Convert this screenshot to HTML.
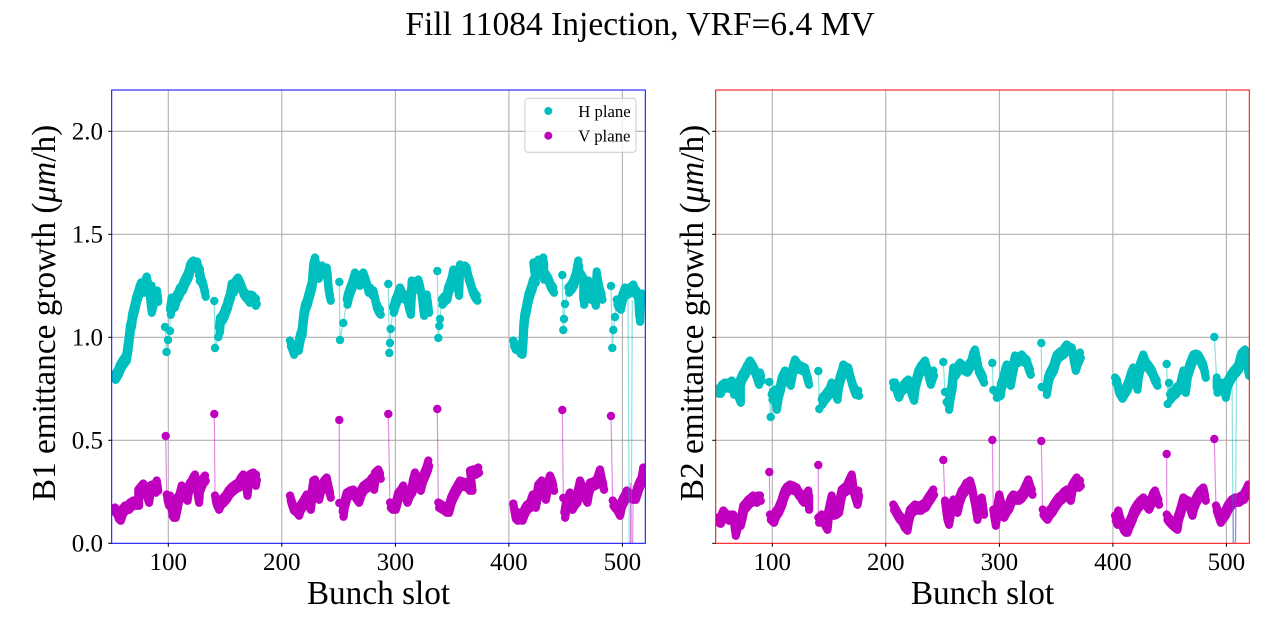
<!DOCTYPE html>
<html><head><meta charset="utf-8"><style>
html,body{margin:0;padding:0;background:#fff;}
svg{display:block;}
text{font-family:"Liberation Serif","Times New Roman",serif;fill:#000;}
.g{stroke:#b0b0b0;stroke-width:1.1;fill:none;}
.tk{stroke:#000;stroke-width:1;}
.hb{fill:none;stroke:#00bfbf;stroke-width:8.2;stroke-linejoin:round;stroke-linecap:round;}
.vb{fill:none;stroke:#bf00bf;stroke-width:8.2;stroke-linejoin:round;stroke-linecap:round;}
.ht{fill:none;stroke:#00bfbf;stroke-opacity:0.45;stroke-width:1.2;}
.vt{fill:none;stroke:#bf00bf;stroke-opacity:0.45;stroke-width:1.2;}
.hc{fill:#00bfbf;}
.vc{fill:#bf00bf;}
.tl{font-size:25px;}
</style></head><body>
<svg width="1280" height="640" viewBox="0 0 1280 640" xmlns="http://www.w3.org/2000/svg" xmlns:xlink="http://www.w3.org/1999/xlink">
<defs>
<clipPath id="cl"><rect x="111.7" y="90" width="533.6" height="453.3"/></clipPath>
<clipPath id="cr"><rect x="715.7" y="90" width="533.6" height="453.3"/></clipPath>

<g id="bh1">
<polyline class="hb" points="115,377 118,372 120,367 123,362 126,358 127,352 128,345 129,337 130,328 131.5,322 132,317 133.5,311 135,305 136,300 138,294 139.5,289 141,285 143,290 145,283 146.7,279 148,285 150,290 151.5,288 150,300 151,310 153,302 155,296 157,293 157.5,299"/>
<polyline class="hb" points="170,312 171.7,300 174,305 176,298 178,295 180,290 182,288 184,283 185,281 187,277 189,272 190,267 192,264 193.3,263 195,266 197,264 198,268 200,272 199,278 201,280 203,285 204,290 205,294"/>
<polyline class="hb" points="219,330 220,320 222,318 224,314 225,311 227,306 228,302 230,296 231.7,286 233,290 235,284 238,280 240,284 242,289 243,292 245,295 247,297 249,300 251,297 253,298 255,303 256,301"/>
<polyline class="hb" points="290,343 292,348 293.3,352 295,347 298,348 299,342 300,337 301.7,332 302.5,324 303.3,317 304,312 305,307 307,302 308.3,297 310,291 311.7,285 312.5,276 313.3,266 315,260 316.7,271 318,276 320,270 322,268 324,272 326.7,270 327.5,280 328.3,290 329,294 330,298"/>
<polyline class="hb" points="346.7,302 348,296 350,290 352,285 355,275 357,280 359,283 361,278 363.3,275 365,280 366.7,285 368,290 370,290 372,293 373.3,293 375,300 376,305 378.3,310 380,312"/>
<polyline class="hb" points="393,310 395,303 397,298 400,290 402,295 404,297 406.7,297 408,305 410,312 411.7,283 413,288 415,285 418.3,282 420,288 422,300 423.3,313 425,300 426.7,297 428.3,310"/>
<polyline class="hb" points="441.7,302 444,299 446.7,297 448,290 450,285 451.7,280 453.3,272 455,278 457,285 458.3,293 459,275 460,267 462,270 465,268 466.7,270 468,277 470,283 472,290 473.3,293 475,296 476.7,298"/>
<polyline class="hb" points="513.3,343 515,347 518.3,348 520,351 521.7,352 522.7,340 523.3,327 524.3,317 526,309 528.3,297 530,292 531.7,287 533,282 535,280 533.3,265 536,270 536.7,273 538.3,262 540,265 543.3,260 543.3,277 545,275 548.3,280 550,285 553.3,290"/>
<polyline class="hb" points="568.3,290 571,287 573.3,283 576,275 578.3,263 578.3,272 581,276 583.3,280 583.3,302 585,290 588.3,283 590,297 592,290 595,303 596.7,274 598,283 600,292 601.7,297"/>
<polyline class="hb" points="616.7,302 618,305 620,307 622,298 625,290 627,292 630,290 633.3,287 635,292 636.7,293 638,298 639.3,319 640,300 642,296 643.3,300 645,298"/>
</g>

<g id="bv1">
<polyline class="vb" points="115,510 116.7,512 118,516 120,518 122,512 123.3,510 125,508 128.3,507 130,505 133.3,503 136,503 138.3,503 138.3,492 140,490 143.3,486 145,490 148.3,500 150,488 152,487 155,490 156.7,483 157.5,488"/>
<polyline class="vb" points="166.7,497 168.3,503 170,498 171.7,500 171.7,513 173,515 175,515 176.7,507 178,500 180,495 181.7,488 184,492 186.7,498 188,490 190,485 191.7,483 193,480 195,477 196,485 198.3,500 199,490 200,487 202,482 205,478"/>
<polyline class="vb" points="215,498 216,502 218.3,507 220,503 223.3,500 226,497 228.3,493 231,490 233.3,488 236,486 238.3,485 241,480 243.3,477 245,480 246.7,493 248.3,478 251,476 253.3,475 255,483 256,477"/>
<polyline class="vb" points="290,498 291.5,503 293.3,508 296,510 298.3,513 300,508 303.3,503 305,500 306.7,497 308,503 310,507 312,492 313.3,483 315,482 316.7,490 318.3,497 320,490 321.7,487 324,483 326.7,480 328.3,488 330,495"/>
<polyline class="vb" points="342.7,514 344,505 346.7,495 350,493 353.3,492 356,497 358.3,500 361,492 363.3,488 366,486 370,483 372,480 373.3,487 375,475 378.3,472 380,476"/>
<polyline class="vb" points="390,505 392,507 395,507 397,500 398.3,495 401,492 403.3,488 405,495 406.7,500 409,494 411.7,490 413,482 415,475 417,480 420,488 422,480 425,473 427,468 428.3,463"/>
<polyline class="vb" points="438.3,505 440,506 443.3,508 446,510 448.3,510 451,500 453.3,495 456,490 460,483 463,484 466.7,485 469,488 471.7,488 470,473 473,472 475,472 478.3,470"/>
<polyline class="vb" points="513.3,506 515,516 517,518 519,515 521.7,518 523.3,514 525,510 527,507 530,505 532.7,497 535,505 537,495 538.3,487 540,485 541.7,483 543.3,490 545,497 547,488 550,478 552,483 553.3,488"/>
<polyline class="vb" points="564.3,515 566,505 568,500 570,495 571.7,507 574,503 576.7,500 578,492 580,483 582,488 584,495 586.7,500 588,492 590,485 593,484 596.7,482 598,478 600,472 601.5,480 603.3,487"/>
<polyline class="vb" points="612.7,503 614,505 616.7,508 619.3,513 621,505 623.3,500 625,497 626.7,493 629,495 632,497 635,497 636.7,492 638.3,487 640,483 641.7,480 643.3,470 645,475"/>
</g>

<g id="bh2">
<polyline class="hb" points="718,391 720,391 722,387 725,385 728,386 731.7,383 733.3,392 735,388 736.7,385 738,395 740,400 740,382 742,377 745,372 747,368 750,363 752,366 755,372 757,378 758.3,382 760,375 761,378"/>
<polyline class="hb" points="771.7,397 773,394 775,392 776,407 778,395 780,388 781.7,380 783,377 785,373 787,378 790,383 792,372 795,362 797,365 798.3,367 801,368 805,370 806.5,376 808.3,382"/>
<polyline class="hb" points="821.7,402 823,399 825,397 828,393 830,390 831.7,385 834,390 836.7,397 838,386 840,378 842,372 843.3,367 846,369 848.3,370 850,377 851.7,383 853,387 855,392 858.3,393"/>
<polyline class="hb" points="893,385 895,385 897,392 898.3,395 900,390 903.3,387 906,384 908.3,382 911,392 913.3,398 915,385 918.3,373 921,368 925,363 927,370 930,382 932,376 933.3,373"/>
<polyline class="hb" points="948.3,407 950,395 951.7,387 953.3,370 955,373 958,368 960,365 963,368 966.7,370 969,366 971.7,362 973,356 975,352 977,362 978.3,370 981,375 983.3,380"/>
<polyline class="hb" points="996,395 1000,393 1001,386 1003.3,380 1005,372 1006.7,367 1008,375 1010,383 1012,372 1015,358 1018,360 1021.7,357 1024,360 1026.7,362 1028,367 1030,372"/>
<polyline class="hb" points="1046,392 1048.3,378 1050,374 1053.3,368 1055,362 1056.7,357 1060,354 1063.3,352 1065,349 1066.7,347 1069,349 1071.7,350 1073,358 1075,368 1077,362 1080,355"/>
<polyline class="hb" points="1115,380 1116.7,382 1118.3,390 1120,393 1121.7,396 1124,392 1126.7,388 1129,382 1131,375 1133.3,370 1135,378 1136.7,387 1138,375 1140,366 1143.3,357 1145,362 1146.7,365 1149,368 1151.7,372 1154,378 1156.7,383"/>
<polyline class="hb" points="1170,397 1172,394 1175,392 1177,389 1180,387 1183.3,373 1185,390 1187,375 1190,365 1192,360 1193.3,357 1196,356 1198.3,357 1201,362 1203.3,367 1205,375"/>
<polyline class="hb" points="1216.7,380 1216.7,390 1219,388 1221,386 1223.3,385 1225,395 1227,384 1230,378 1233.3,373 1236,370 1238.3,367 1240,360 1241.7,355 1245,352 1246.7,365 1248.3,373 1250,368"/>
</g>

<g id="bv2">
<polyline class="vb" points="718,520 720,521 722,516 723.3,513 726,516 728.3,518 731,517 733.3,517 735,533 737,525 740,523 742,515 743.3,508 746,505 748.3,502 751,500 753.3,498 756,500 758,498 760,498"/>
<polyline class="vb" points="770,517 773.3,520 775,515 778.3,510 780,506 781.7,502 783,497 785,492 787,489 790,487 793,488 796.7,490 798,493 800,495 801.5,498 803.3,500 806,497 808.3,493 808.3,507"/>
<polyline class="vb" points="818.3,520 820,519 821.7,517 824,522 826.7,527 828,515 831.7,498 833.3,513 836,512 838.3,510 840,500 841.7,492 844,490 846.7,488 849,483 851.7,477 853,490 856.7,502 858.3,493"/>
<polyline class="vb" points="893.3,507 895,510 896.7,513 899,517 901.7,520 904,525 906.7,528 908,520 910,512 912,510 915,507 918,508 920,508 923,506 925,505 928,500 930,497 933.3,492"/>
<polyline class="vb" points="945,503 946.7,517 948.3,522 950,512 953.3,502 955,506 956.7,510 959,500 961.7,493 964,490 966.7,485 968,487 970,483 972,490 973.3,497 975,505 976.7,517 979,505 981.7,500 983.3,512"/>
<polyline class="vb" points="993.3,512 995,523 997,510 999.3,497 1001,505 1003.3,515 1006,510 1008.3,507 1011,500 1013.3,497 1016,498 1018.3,498 1021,496 1023.3,493 1026,487 1028.3,482 1030,488 1031.7,492"/>
<polyline class="vb" points="1042.7,512 1044,514 1046.7,517 1049,513 1051.7,510 1054,506 1056.7,502 1059,499 1061.7,497 1064,494 1066.7,492 1068,495 1070,498 1071.7,488 1074,484 1076.7,480 1078,485 1080,483"/>
<polyline class="vb" points="1115,518 1116.7,522 1118.3,513 1120,520 1123.3,528 1125,530 1126.7,530 1129,524 1131.7,518 1133,514 1135,510 1137.5,506 1140,503 1143.3,500 1146,504 1148.3,507 1150,503 1151.7,500 1153,496 1155,493 1156.5,498 1158.3,502"/>
<polyline class="vb" points="1166.7,517 1168,519 1171.7,523 1174,525 1176.7,527 1178,518 1180,512 1182,505 1183.3,500 1186,502 1188.3,503 1190,508 1191.7,513 1193,507 1195,502 1197.5,497 1200,493 1203.3,490 1205,498"/>
<polyline class="vb" points="1216,508 1218,514 1220,520 1222,517 1225,513 1228,507 1231.7,502 1235,500 1238.3,500 1241,498 1243.3,497 1246,492 1248.3,487 1250,490"/>
</g>
</defs>

<text x="640" y="35" font-size="33.5" text-anchor="middle">Fill 11084 Injection, VRF=6.4 MV</text>

<!-- LEFT AXES grid -->
<g class="g">
<line x1="168.3" y1="90" x2="168.3" y2="543.3"/><line x1="281.8" y1="90" x2="281.8" y2="543.3"/>
<line x1="395.4" y1="90" x2="395.4" y2="543.3"/><line x1="508.9" y1="90" x2="508.9" y2="543.3"/>
<line x1="622.4" y1="90" x2="622.4" y2="543.3"/>
<line x1="111.7" y1="131.3" x2="645.3" y2="131.3"/><line x1="111.7" y1="234.3" x2="645.3" y2="234.3"/>
<line x1="111.7" y1="337.3" x2="645.3" y2="337.3"/><line x1="111.7" y1="440.3" x2="645.3" y2="440.3"/>
</g>
<!-- RIGHT AXES grid -->
<g class="g">
<line x1="772.3" y1="90" x2="772.3" y2="543.3"/><line x1="885.8" y1="90" x2="885.8" y2="543.3"/>
<line x1="999.4" y1="90" x2="999.4" y2="543.3"/><line x1="1112.9" y1="90" x2="1112.9" y2="543.3"/>
<line x1="1226.4" y1="90" x2="1226.4" y2="543.3"/>
<line x1="715.7" y1="131.3" x2="1249.3" y2="131.3"/><line x1="715.7" y1="234.3" x2="1249.3" y2="234.3"/>
<line x1="715.7" y1="337.3" x2="1249.3" y2="337.3"/><line x1="715.7" y1="440.3" x2="1249.3" y2="440.3"/>
</g>

<!-- LEFT DATA -->
<g clip-path="url(#cl)">
<use xlink:href="#bh1" href="#bh1" transform="translate(0,-2.5)"/>
<use xlink:href="#bh1" href="#bh1" transform="translate(0.8,2.8)"/>
<use xlink:href="#bv1" href="#bv1" transform="translate(0,-2.5)"/>
<use xlink:href="#bv1" href="#bv1" transform="translate(0.8,2.8)"/>
<!-- B1 H thin / spikes -->
<polyline class="ht" points="628,290 629.5,600 631,600 632.3,300"/>
<polyline class="ht" points="165,327 166.5,352 168,340 170,331 170,312"/>
<circle class="hc" cx="165" cy="327" r="4.2"/><circle class="hc" cx="166.5" cy="352" r="4.2"/><circle class="hc" cx="168" cy="340" r="4.2"/><circle class="hc" cx="170" cy="331" r="4.2"/>
<polyline class="ht" points="214.3,301 215,348 218.3,337 219,330"/>
<circle class="hc" cx="214.3" cy="301" r="4.2"/><circle class="hc" cx="215" cy="348" r="4.2"/><circle class="hc" cx="218.3" cy="337" r="4.2"/>
<polyline class="ht" points="339.3,282 340,340 343.3,323 346.7,302"/>
<circle class="hc" cx="339.3" cy="282" r="4.2"/><circle class="hc" cx="340" cy="340" r="4.2"/><circle class="hc" cx="343.3" cy="323" r="4.2"/>
<polyline class="ht" points="388.3,284 389.3,353 390,343 390.7,329 393,310"/>
<circle class="hc" cx="388.3" cy="284" r="4.2"/><circle class="hc" cx="389.3" cy="353" r="4.2"/><circle class="hc" cx="390" cy="343" r="4.2"/><circle class="hc" cx="390.7" cy="329" r="4.2"/>
<polyline class="ht" points="437.3,271 438.3,338 439.3,326 440,319 441.7,302"/>
<circle class="hc" cx="437.3" cy="271" r="4.2"/><circle class="hc" cx="438.3" cy="338" r="4.2"/><circle class="hc" cx="439.3" cy="326" r="4.2"/><circle class="hc" cx="440" cy="319" r="4.2"/>
<polyline class="ht" points="562.3,275 563.3,330 564,319 565,304 568.3,290"/>
<circle class="hc" cx="562.3" cy="275" r="4.2"/><circle class="hc" cx="563.3" cy="330" r="4.2"/><circle class="hc" cx="564" cy="319" r="4.2"/><circle class="hc" cx="565" cy="304" r="4.2"/>
<polyline class="ht" points="611,286 612.3,348 613.3,330 615,317 616.7,302"/>
<circle class="hc" cx="611" cy="286" r="4.2"/><circle class="hc" cx="612.3" cy="348" r="4.2"/><circle class="hc" cx="613.3" cy="330" r="4.2"/><circle class="hc" cx="615" cy="317" r="4.2"/>
<!-- B1 V thin / spikes -->
<polyline class="vt" points="630.5,483 630.7,600 632,600 633.3,485"/>
<polyline class="vt" points="165.7,436 166.7,497"/><circle class="vc" cx="165.7" cy="436" r="4.2"/>
<polyline class="vt" points="214.3,414 215,498"/><circle class="vc" cx="214.3" cy="414" r="4.2"/>
<polyline class="vt" points="339.3,420 339.3,503 342.7,514"/><circle class="vc" cx="339.3" cy="420" r="4.2"/><circle class="vc" cx="339.3" cy="503" r="4.2"/>
<polyline class="vt" points="388.3,414 390,505"/><circle class="vc" cx="388.3" cy="414" r="4.2"/>
<polyline class="vt" points="437.3,409 438.3,505"/><circle class="vc" cx="437.3" cy="409" r="4.2"/>
<polyline class="vt" points="562.3,410 563.3,498 564.3,515"/><circle class="vc" cx="562.3" cy="410" r="4.2"/><circle class="vc" cx="563.3" cy="498" r="4.2"/>
<polyline class="vt" points="611,416 612.7,503"/><circle class="vc" cx="611" cy="416" r="4.2"/>
</g>

<!-- RIGHT DATA -->
<g clip-path="url(#cr)">
<use xlink:href="#bh2" href="#bh2" transform="translate(0,-2.5)"/>
<use xlink:href="#bh2" href="#bh2" transform="translate(0.8,2.8)"/>
<use xlink:href="#bv2" href="#bv2" transform="translate(0,-2.5)"/>
<use xlink:href="#bv2" href="#bv2" transform="translate(0.8,2.8)"/>
<!-- B2 H -->
<polyline class="ht" points="1232,378 1233.5,600 1235,600 1236.5,372"/>
<polyline class="ht" points="769.3,382 770.7,417 771.7,397"/>
<circle class="hc" cx="769.3" cy="382" r="4.2"/><circle class="hc" cx="770.7" cy="417" r="4.2"/>
<polyline class="ht" points="818.3,371 819.3,409 821.7,402"/>
<circle class="hc" cx="818.3" cy="371" r="4.2"/><circle class="hc" cx="819.3" cy="409" r="4.2"/>
<polyline class="ht" points="943.3,362 945,392 946.7,402 948.3,407 950,395"/>
<circle class="hc" cx="943.3" cy="362" r="4.2"/><circle class="hc" cx="945" cy="392" r="4.2"/><circle class="hc" cx="946.7" cy="402" r="4.2"/>
<polyline class="ht" points="992.3,363 993.3,390 996,395 1000,393 1001,386"/>
<circle class="hc" cx="992.3" cy="363" r="4.2"/><circle class="hc" cx="993.3" cy="390" r="4.2"/>
<polyline class="ht" points="1041.3,343 1041.7,387 1046,392"/>
<circle class="hc" cx="1041.3" cy="343" r="4.2"/><circle class="hc" cx="1041.7" cy="387" r="4.2"/>
<polyline class="ht" points="1166.7,364 1167.7,404 1169,383 1170,397 1172,394"/>
<circle class="hc" cx="1166.7" cy="364" r="4.2"/><circle class="hc" cx="1167.7" cy="404" r="4.2"/><circle class="hc" cx="1169" cy="383" r="4.2"/>
<polyline class="ht" points="1214.3,337 1216.7,380 1216.7,390"/>
<circle class="hc" cx="1214.3" cy="337" r="4.2"/>
<!-- B2 V -->
<polyline class="vt" points="1233,500 1233.8,600 1235,600 1236,498"/>
<polyline class="vt" points="769.3,472 770,517"/><circle class="vc" cx="769.3" cy="472" r="4.2"/>
<polyline class="vt" points="818.3,465 818.3,520"/><circle class="vc" cx="818.3" cy="465" r="4.2"/>
<polyline class="vt" points="943.3,460 945,503"/><circle class="vc" cx="943.3" cy="460" r="4.2"/>
<polyline class="vt" points="992.3,440 993.3,512"/><circle class="vc" cx="992.3" cy="440" r="4.2"/>
<polyline class="vt" points="1041.3,441 1042.7,512"/><circle class="vc" cx="1041.3" cy="441" r="4.2"/>
<polyline class="vt" points="1166.7,454 1166.7,517"/><circle class="vc" cx="1166.7" cy="454" r="4.2"/>
<polyline class="vt" points="1214.3,439 1216,508"/><circle class="vc" cx="1214.3" cy="439" r="4.2"/>
</g>

<!-- Spines -->
<rect x="111.7" y="90" width="533.6" height="453.3" fill="none" stroke="#0000ff" stroke-width="1"/>
<rect x="715.7" y="90" width="533.6" height="453.3" fill="none" stroke="#ff0000" stroke-width="1"/>

<!-- Ticks -->
<g class="tk">
<line x1="108.2" y1="543.3" x2="111.7" y2="543.3"/><line x1="108.2" y1="440.3" x2="111.7" y2="440.3"/>
<line x1="108.2" y1="337.3" x2="111.7" y2="337.3"/><line x1="108.2" y1="234.3" x2="111.7" y2="234.3"/>
<line x1="108.2" y1="131.3" x2="111.7" y2="131.3"/>
<line x1="168.3" y1="543.3" x2="168.3" y2="546.8"/><line x1="281.8" y1="543.3" x2="281.8" y2="546.8"/>
<line x1="395.4" y1="543.3" x2="395.4" y2="546.8"/><line x1="508.9" y1="543.3" x2="508.9" y2="546.8"/>
<line x1="622.4" y1="543.3" x2="622.4" y2="546.8"/>
<line x1="712.2" y1="543.3" x2="715.7" y2="543.3"/><line x1="712.2" y1="440.3" x2="715.7" y2="440.3"/>
<line x1="712.2" y1="337.3" x2="715.7" y2="337.3"/><line x1="712.2" y1="234.3" x2="715.7" y2="234.3"/>
<line x1="712.2" y1="131.3" x2="715.7" y2="131.3"/>
<line x1="772.3" y1="543.3" x2="772.3" y2="546.8"/><line x1="885.8" y1="543.3" x2="885.8" y2="546.8"/>
<line x1="999.4" y1="543.3" x2="999.4" y2="546.8"/><line x1="1112.9" y1="543.3" x2="1112.9" y2="546.8"/>
<line x1="1226.4" y1="543.3" x2="1226.4" y2="546.8"/>
</g>

<!-- Tick labels -->
<g class="tl" text-anchor="end">
<text x="103" y="551.7">0.0</text><text x="103" y="448.7">0.5</text>
<text x="103" y="345.7">1.0</text><text x="103" y="242.7">1.5</text>
<text x="103" y="139.7">2.0</text>
</g>
<g class="tl" text-anchor="middle">
<text x="168.3" y="570">100</text><text x="281.8" y="570">200</text><text x="395.4" y="570">300</text>
<text x="508.9" y="570">400</text><text x="622.4" y="570">500</text>
<text x="772.3" y="570">100</text><text x="885.8" y="570">200</text><text x="999.4" y="570">300</text>
<text x="1112.9" y="570">400</text><text x="1226.4" y="570">500</text>
</g>

<!-- Axis labels -->
<text x="378.5" y="604" font-size="33.3" text-anchor="middle">Bunch slot</text>
<text x="982.5" y="604" font-size="33.3" text-anchor="middle">Bunch slot</text>
<text transform="translate(55,313) rotate(-90)" font-size="33.3" text-anchor="middle">B1 emittance growth (<tspan font-style="italic">μm</tspan>/h)</text>
<text transform="translate(703,313) rotate(-90)" font-size="33.3" text-anchor="middle">B2 emittance growth (<tspan font-style="italic">μm</tspan>/h)</text>

<!-- Legend -->
<rect x="525" y="98.3" width="111" height="54" rx="3" ry="3" fill="#ffffff" fill-opacity="0.8" stroke="#cccccc" stroke-width="1"/>
<circle cx="548.3" cy="111" r="4" fill="#00bfbf"/>
<circle cx="548.3" cy="135.7" r="4" fill="#bf00bf"/>
<text x="578.3" y="116.8" font-size="16.7">H plane</text>
<text x="578.3" y="141.5" font-size="16.7">V plane</text>
</svg>
</body></html>
